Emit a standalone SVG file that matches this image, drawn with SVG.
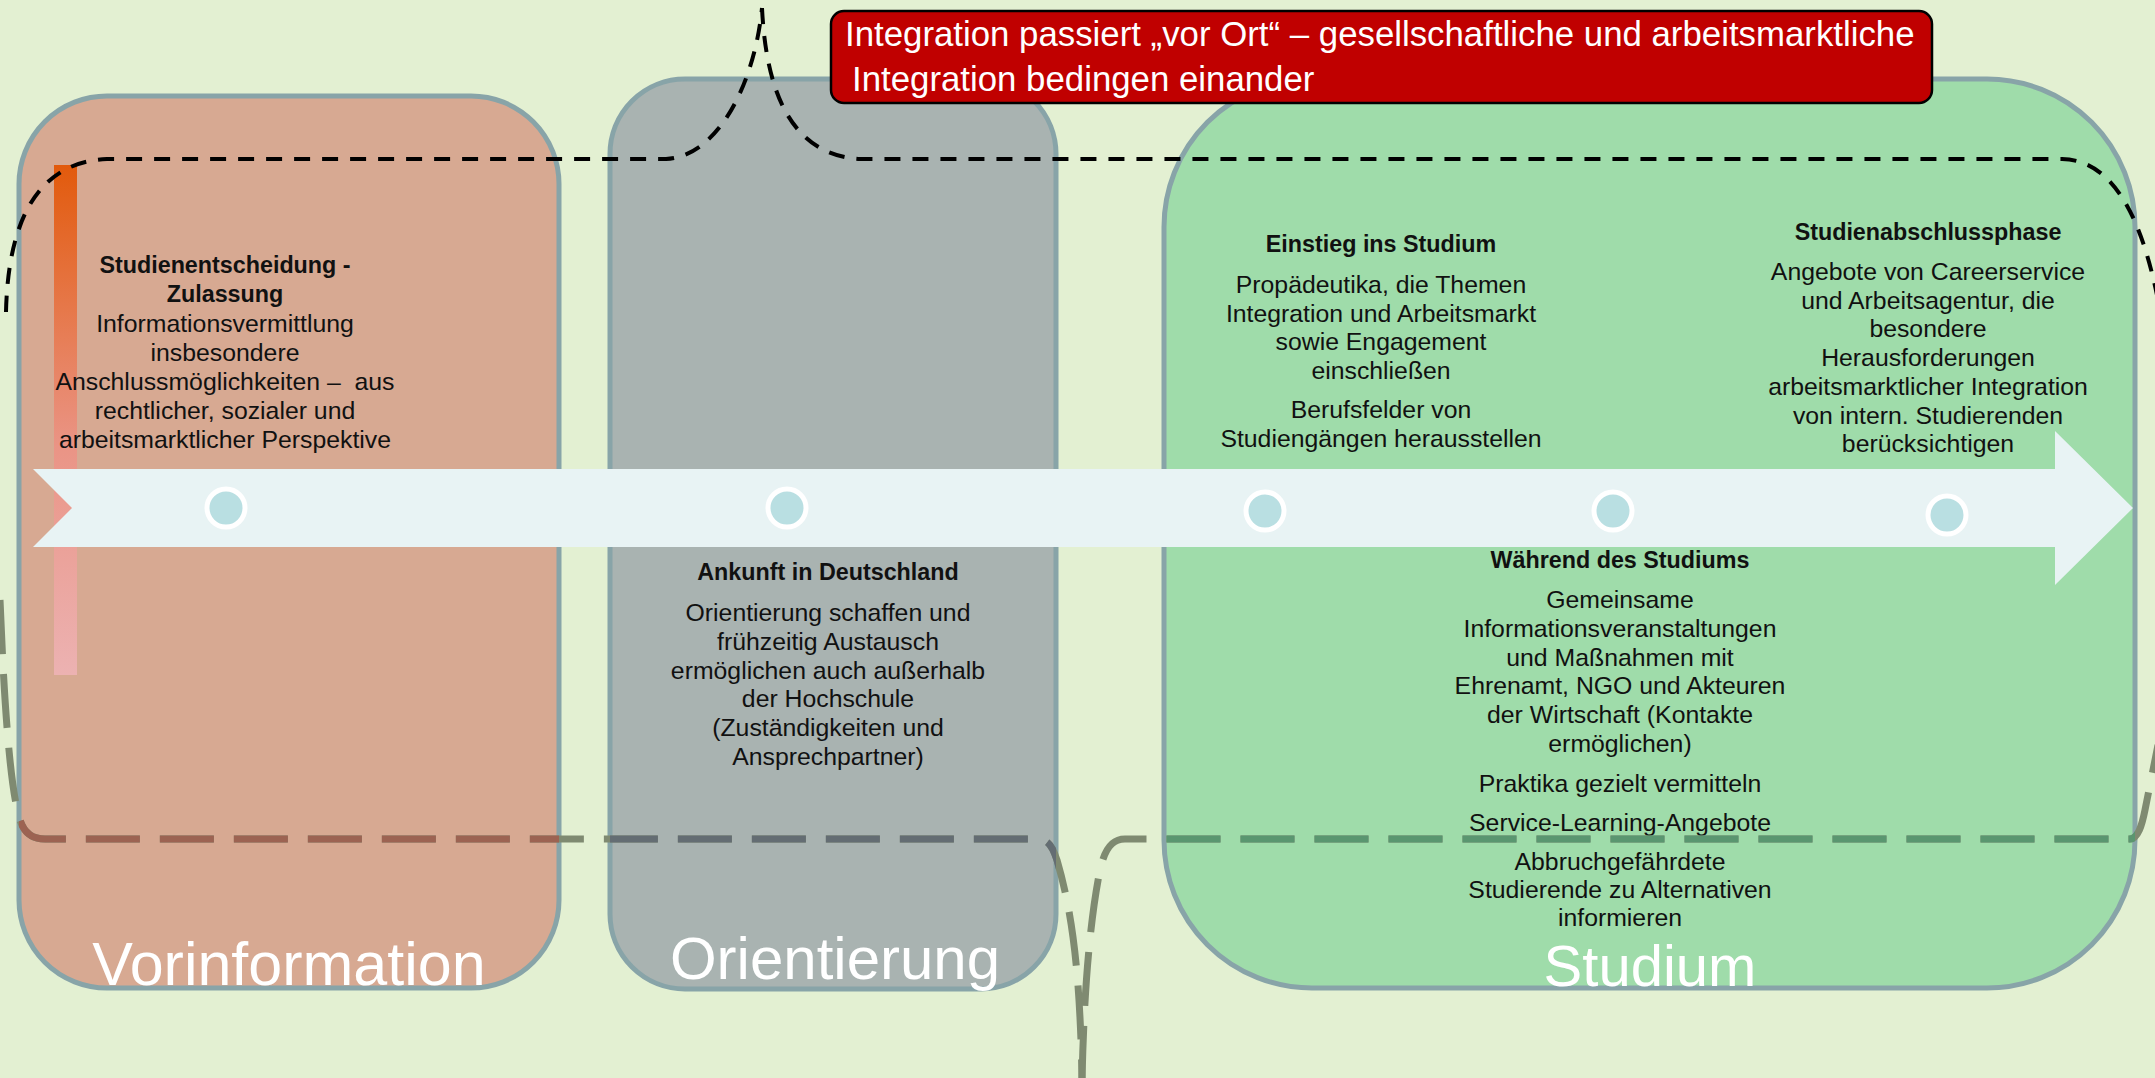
<svg xmlns="http://www.w3.org/2000/svg" width="2155" height="1078" viewBox="0 0 2155 1078">
<defs>
<style>
.box{stroke:#88a4a8;stroke-width:5}
.t{font-family:"Liberation Sans",Arial,sans-serif;font-size:24.8px;fill:#111;text-anchor:middle}
.h{font-family:"Liberation Sans",Arial,sans-serif;font-size:23.3px;font-weight:bold;fill:#111;text-anchor:middle}
.big{font-family:"Liberation Sans",Arial,sans-serif;font-size:60px;fill:#fff;text-anchor:middle}
.title{font-family:"Liberation Sans",Arial,sans-serif;font-size:34.8px;fill:#fff}
.dot{fill:#b9dfe2;stroke:#fff;stroke-width:5}
.blk{fill:none;stroke:#000;stroke-width:4;stroke-dasharray:16 12}
.gry{fill:none;stroke-width:7;stroke-dasharray:54 20}
</style>
<linearGradient id="barGrad" x1="0" y1="0" x2="0" y2="1">
<stop offset="0" stop-color="#e25a0c"/>
<stop offset="0.55" stop-color="#ea9485"/>
<stop offset="1" stop-color="#ecb2b2"/>
</linearGradient>
<clipPath id="cVor"><rect x="19" y="96" width="540" height="892" rx="88"/></clipPath>
<clipPath id="cOri"><rect x="610" y="79" width="446" height="910" rx="75"/></clipPath>
<clipPath id="cStu"><rect x="1164" y="79" width="971" height="909" rx="148"/></clipPath>
<path id="dashA" d="M 0 600 C 4 700, 10 790, 20 820 Q 26 839 45 839 L 1035 839 C 1048 839, 1052 845, 1057 860 C 1070 905, 1080 960, 1082 1080"/>
<path id="dashB" d="M 1082 1080 C 1084 990, 1090 920, 1100 870 C 1105 848, 1112 839, 1125 839 L 2130 839 C 2138 839, 2142 825, 2145 810 L 2158 745"/>
</defs>
<rect x="0" y="0" width="2155" height="1078" fill="#e3f0d2"/>

<g id="node-vorinformation">
<rect class="box" x="19" y="96" width="540" height="892" rx="88" fill="#d7a992"/>
<rect x="54" y="165" width="23" height="510" fill="url(#barGrad)"/>
<text class="h"><tspan x="225" y="273">Studienentscheidung -</tspan><tspan x="225" y="302">Zulassung</tspan></text>
<text class="t" xml:space="preserve"><tspan x="225" y="332">Informationsvermittlung</tspan><tspan x="225" y="361">insbesondere</tspan><tspan x="225" y="390">Anschlussmöglichkeiten –  aus</tspan><tspan x="225" y="419">rechtlicher, sozialer und</tspan><tspan x="225" y="448">arbeitsmarktlicher Perspektive</tspan></text>
<text class="big" x="289" y="985" style="font-size:61px">Vorinformation</text>
</g>

<g id="node-orientierung">
<rect class="box" x="610" y="79" width="446" height="910" rx="75" fill="#a9b3b1"/>
<text class="h" x="828" y="580">Ankunft in Deutschland</text>
<text class="t"><tspan x="828" y="621">Orientierung schaffen und</tspan><tspan x="828" y="650">frühzeitig Austausch</tspan><tspan x="828" y="679">ermöglichen auch außerhalb</tspan><tspan x="828" y="707">der Hochschule</tspan><tspan x="828" y="736">(Zuständigkeiten und</tspan><tspan x="828" y="765">Ansprechpartner)</tspan></text>
<text class="big" x="835" y="979">Orientierung</text>
</g>

<g id="node-studium">
<rect class="box" x="1164" y="79" width="971" height="909" rx="148" fill="#9fdcaa"/>
<text class="h" x="1381" y="252">Einstieg ins Studium</text>
<text class="t"><tspan x="1381" y="293">Propädeutika, die Themen</tspan><tspan x="1381" y="321.5">Integration und Arbeitsmarkt</tspan><tspan x="1381" y="350">sowie Engagement</tspan><tspan x="1381" y="378.5">einschließen</tspan><tspan x="1381" y="418">Berufsfelder von</tspan><tspan x="1381" y="446.5">Studiengängen herausstellen</tspan></text>
<text class="h" x="1928" y="240">Studienabschlussphase</text>
<text class="t"><tspan x="1928" y="280">Angebote von Careerservice</tspan><tspan x="1928" y="308.7">und Arbeitsagentur, die</tspan><tspan x="1928" y="337.4">besondere</tspan><tspan x="1928" y="366">Herausforderungen</tspan><tspan x="1928" y="395">arbeitsmarktlicher Integration</tspan><tspan x="1928" y="423.5">von intern. Studierenden</tspan><tspan x="1928" y="452">berücksichtigen</tspan></text>
<text class="h" x="1620" y="568">Während des Studiums</text>
<text class="t"><tspan x="1620" y="608">Gemeinsame</tspan><tspan x="1620" y="637">Informationsveranstaltungen</tspan><tspan x="1620" y="665.5">und Maßnahmen mit</tspan><tspan x="1620" y="694">Ehrenamt, NGO und Akteuren</tspan><tspan x="1620" y="723">der Wirtschaft (Kontakte</tspan><tspan x="1620" y="751.5">ermöglichen)</tspan><tspan x="1620" y="792">Praktika gezielt vermitteln</tspan><tspan x="1620" y="831">Service-Learning-Angebote</tspan><tspan x="1620" y="870">Abbruchgefährdete</tspan><tspan x="1620" y="898">Studierende zu Alternativen</tspan><tspan x="1620" y="926">informieren</tspan></text>
<text class="big" x="1650" y="986" style="font-size:58px">Studium</text>
</g>

<g id="timeline">
<polygon points="33,469 2055,469 2055,431 2133,508 2055,585 2055,547 33,547 72,508" fill="#e8f3f4"/>
<circle class="dot" cx="226" cy="508" r="19"/>
<circle class="dot" cx="787" cy="508" r="19"/>
<circle class="dot" cx="1265" cy="511" r="19"/>
<circle class="dot" cx="1613" cy="511" r="19"/>
<circle class="dot" cx="1947" cy="515" r="19"/>
</g>

<g id="connectors">
<use href="#dashA" class="gry" stroke="#7f8a71"/>
<use href="#dashA" class="gry" stroke="#9c6352" clip-path="url(#cVor)"/>
<use href="#dashA" class="gry" stroke="#646d73" clip-path="url(#cOri)"/>
<use href="#dashB" class="gry" stroke="#7f8a71"/>
<use href="#dashB" class="gry" stroke="#5a9670" clip-path="url(#cStu)"/>
<path class="blk" d="M 6 312 C 8 225, 35 162, 107 159 L 666 159 C 720 156, 755 80, 762 8"/>
<path class="blk" d="M 762 8 C 766 90, 790 155, 860 159 L 2062 159 C 2110 160, 2140 210, 2158 300"/>
</g>

<g id="node-title">
<rect x="831" y="11" width="1101" height="92" rx="13" fill="#c00000" stroke="#000" stroke-width="2.5"/>
<text class="title"><tspan x="845" y="46">Integration passiert „vor Ort“ – gesellschaftliche und arbeitsmarktliche</tspan><tspan x="852" y="91">Integration bedingen einander</tspan></text>
</g>
</svg>
